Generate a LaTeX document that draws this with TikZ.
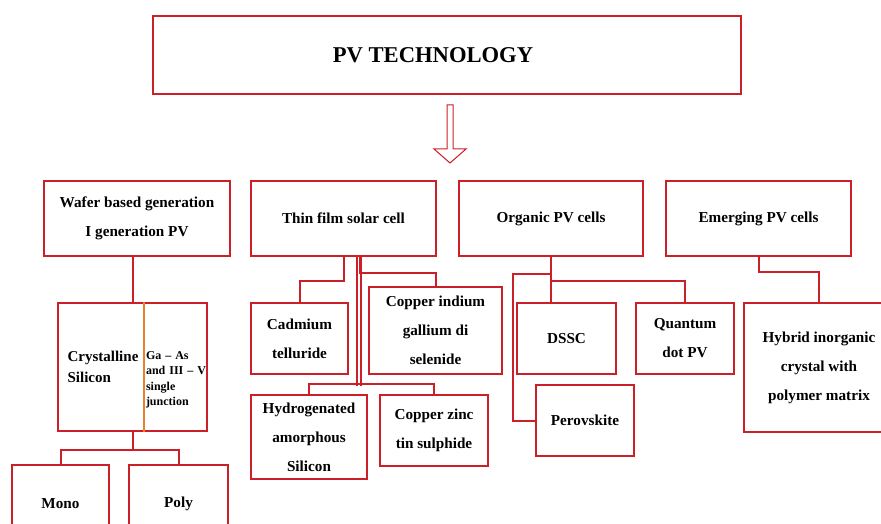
\documentclass[tikz,border=0pt]{standalone}
\usepackage{fontspec}
\setmainfont{Liberation Serif}
\usetikzlibrary{positioning,calc}
\definecolor{boxred}{RGB}{204,32,40}
\definecolor{divorange}{RGB}{237,125,49}

\begin{document}
\begin{tikzpicture}[x=1pt,y=-1pt,
 box/.style={draw=boxred,line width=1.2pt,fill=white,align=center,inner sep=2pt,
   font=\bfseries\fontsize{15.2}{29}\selectfont},
 conn/.style={draw=boxred,line width=2pt}]
\path[use as bounding box,clip] (0,0) rectangle (881,524);
\fill[white] (0,0) rectangle (881,524);
% top and the hollow arrow
\node[box,minimum width=588pt,minimum height=78pt] (pv) at (447,55) {};
\node[font=\bfseries\fontsize{22.6}{26}\selectfont] (pvtext) at (433,55) {PV TECHNOLOGY};
\draw[draw=boxred,line width=1pt] (447,105) -- (453,105) -- (453,149) -- (466,149) -- (450,163) -- (434,149) -- (447,149) -- cycle;
% generations
\node[box,minimum width=186pt,minimum height=75pt] (wafer) at (137,218.5) {Wafer based generation\\I generation PV};
\node[box,minimum width=185pt,minimum height=75pt] (thin) at (343.5,218.5) {Thin film solar cell};
\node[box,minimum width=184pt,minimum height=75pt] (org) at (551,218.5) {Organic PV cells};
\node[box,minimum width=185pt,minimum height=75pt] (emerg) at (758.5,218.5) {Emerging PV cells};
% wafer branch
\node[box,minimum width=149pt,minimum height=128pt] (cryst) at (132.5,367) {};
\draw[draw=divorange,line width=1.2pt] ([xshift=11.5pt]cryst.north) -- ([xshift=11.5pt]cryst.south);
\node[align=left,font=\bfseries\fontsize{15}{21}\selectfont] (crsi) at (103,367) {Crystalline\\Silicon};
\node[align=left,text width=62pt,inner sep=0pt,font=\bfseries\fontsize{12}{15.5}\selectfont] (gaas) at (177,380) {Ga -- As\\and III -- V\\single\\junction};
\node[box,minimum width=97pt,minimum height=78pt] (mono) at (60.5,504) {Mono};
\node[box,minimum width=99pt,minimum height=78pt] (poly) at (178.5,504) {Poly};
\draw[conn] ([xshift=-4pt]wafer.south) -- ++(0,22) -| (cryst.north);
\draw[conn] (cryst.south) -- ++(0,18) -| (mono.north);
\draw[conn] (cryst.south) -- ++(0,18) -| (poly.north);
% thin film branch
\node[box,minimum width=97pt,minimum height=71pt] (cdte) at (299.5,338.5) {Cadmium\\telluride};
\node[box,minimum width=133pt,minimum height=87pt] (cigs) at (435.5,330.5) {Copper indium\\gallium di\\selenide};
\node[box,minimum width=116pt,minimum height=84pt] (asi) at (309,437) {Hydrogenated\\amorphous\\Silicon};
\node[box,minimum width=108pt,minimum height=71pt] (czts) at (434,430.5) {Copper zinc\\tin sulphide};
\draw[conn] (thin.south) -- ++(0,24) -| (cdte.north);
\draw[conn] ([xshift=16.5pt]thin.south) -- ++(0,16) -| (cigs.north);
\draw[conn] ([xshift=13pt]thin.south) -- ++(0,129);
\draw[conn] ([xshift=17.5pt]thin.south) -- ++(0,129);
\draw[conn] (asi.north) -- ++(0,-10) -| (czts.north);
% organic branch
\node[box,minimum width=99pt,minimum height=71pt] (dssc) at (566.5,338.5) {DSSC};
\node[box,minimum width=98pt,minimum height=71pt] (qdot) at (685,338.5) {Quantum\\dot PV};
\node[box,minimum width=98pt,minimum height=71pt] (perov) at (585,420.5) {Perovskite};
\draw[conn] (org.south) -- (org.south |- dssc.north);
\draw[conn] (org.south) -- ++(0,24) -| (qdot.north);
\draw[conn] (org.south) -- ++(0,17) -- ++(-38,0) |- (perov.west);
% emerging branch
\node[box,minimum width=150pt,minimum height=129pt] (hybrid) at (819,367.5) {Hybrid inorganic\\crystal with\\polymer matrix};
\draw[conn] (emerg.south) -- ++(0,15) -| (hybrid.north);
\end{tikzpicture}
\end{document}
